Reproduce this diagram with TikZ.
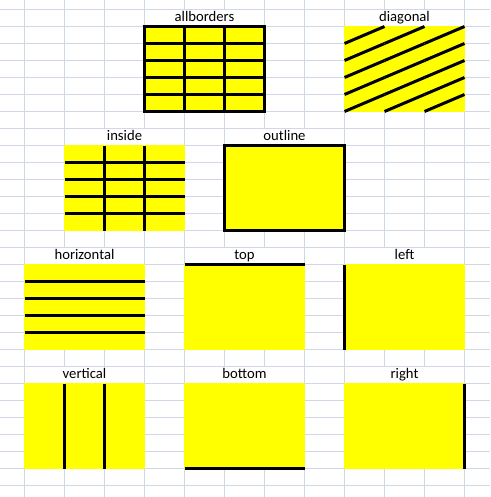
\documentclass[tikz,border=0pt]{standalone}
\usepackage{fontspec}
\setmainfont{Carlito}
\usepackage{xcolor}
\definecolor{gridblue}{RGB}{208,215,229}
\definecolor{cellyellow}{RGB}{255,255,0}

\begin{document}
\begin{tikzpicture}[
    x=0.75pt,
    y=-0.75pt,
    gridline/.style ={
        draw=gridblue,
        line width=0.75pt
    },
    fat/.style ={
        draw=black,
        line width=2.25pt
    },
    lbl/.style ={
        anchor=base,
        inner sep=0pt,
        font=\fontsize{11}{13}\selectfont
    }
    ]
    \useasboundingbox (0,0) rectangle (490,497);
    \fill[white] (0,0) rectangle (490,497);
    % sheet grid
    \foreach \k in {0,...,11}
        \draw[gridline] (24.5+40*\k,0) -- (24.5+40*\k,497);
    \foreach \k in {0,...,28}
        \draw[gridline] (0,9.5+17*\k) -- (490,9.5+17*\k);

    % yellow blocks with their titles
    \foreach \nm/ \cx/ \cy/ \txt in {ab/144/26/allborders, dg/344/26/diagonal,
                                in/64/145/inside, ol/224/145/outline,
                                hz/24/264/horizontal, tp/184/264/top, lf/344/264/left,
                                vt/24/383/vertical, bt/184/383/bottom, rt/344/383/right}{
        \fill[white] (\cx+1.5,\cy-16) rectangle (\cx+119.5,\cy);
        \fill[cellyellow] (\cx,\cy) rectangle (\cx+121,\cy+86);
        \node[lbl] (\nm) at (\cx+60.5,\cy-5) {\txt};
    };

    % allborders
    \draw[fat] (144.5,26.5) rectangle (264.5,111.5);
    \foreach \i in {1,2}
        \draw[fat] (144.5+40*\i,26.5) -- (144.5+40*\i,111.5);
    \foreach \j in {1,...,4}
        \draw[fat] (144.5,26.5+17*\j) -- (264.5,26.5+17*\j);
    % diagonal
    \foreach \i in {0,1,2}
        \foreach \j in {0,...,4}
            \draw[fat] (344.5+40*\i,43.5+17*\j) -- (384.5+40*\i,26.5+17*\j);
    % inside
    \foreach \i in {1,2}
        \draw[fat] (64.5+40*\i,145.5) -- (64.5+40*\i,230.5);
    \foreach \j in {1,...,4}
        \draw[fat] (64.5,145.5+17*\j) -- (184.5,145.5+17*\j);
    % outline
    \draw[fat] (224.5,145.5) rectangle (344.5,230.5);
    % horizontal
    \foreach \j in {1,...,4}
        \draw[fat] (24.5,264.5+17*\j) -- (144.5,264.5+17*\j);
    % top, left
    \draw[fat] (184.5,264.5) -- (304.5,264.5);
    \draw[fat] (344.5,264.5) -- (344.5,349.5);
    % vertical
    \foreach \i in {1,2}
        \draw[fat] (24.5+40*\i,383.5) -- (24.5+40*\i,468.5);
    % bottom, right
    \draw[fat] (184.5,468.5) -- (304.5,468.5);
    \draw[fat] (464.5,383.5) -- (464.5,468.5);
\end{tikzpicture}
\end{document}
